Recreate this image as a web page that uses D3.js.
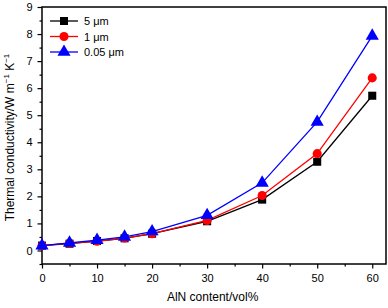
<!DOCTYPE html>
<html>
<head>
<meta charset="utf-8">
<script src="https://cdn.jsdelivr.net/npm/d3@7"></script>
<style>
body { margin: 0; background: #fff; }
svg { font-family: "Liberation Sans", Arial, sans-serif; }
</style>
</head>
<body>
<svg width="388" height="308"></svg>
<script>
// AlN content (vol%)
const content = [0, 5, 10, 15, 20, 30, 40, 50, 60];
// thermal conductivity per particle size
const s5 = [0.18, 0.25, 0.35, 0.45, 0.62, 1.08, 1.88, 3.28, 5.72];
const s1 = [0.18, 0.27, 0.34, 0.46, 0.62, 1.11, 2.03, 3.58, 6.38];
const s005 = [0.18, 0.28, 0.38, 0.50, 0.70, 1.30, 2.50, 4.75, 7.93];
const names = ["5 \u03bcm", "1 \u03bcm", "0.05 \u03bcm"];
const xTicks = [0, 10, 20, 30, 40, 50, 60];
const yTicks = [0, 1, 2, 3, 4, 5, 6, 7, 8, 9];

const series = [
    { name: names[0], vals: s5, color: "#000", shape: d3.symbolSquare },
    { name: names[1], vals: s1, color: "#ff0000", shape: d3.symbolCircle },
    { name: names[2], vals: s005, color: "#0000ff", shape: d3.symbolTriangle }
];

const svg = d3.select("svg"),
    margin = { top: 7, right: 2, bottom: 44, left: 42 },
    width = 388 - margin.left - margin.right,
    height = 308 - margin.top - margin.bottom,
    g = svg.append("g").attr("transform", `translate(${margin.left},${margin.top})`);

const x = d3.scaleLinear().domain([0, 62.5]).range([0, width]);
const y = d3.scaleLinear().domain([-0.5, 9]).range([height, 0]);

// minor ticks
g.append("g").attr("transform", `translate(0,${height})`)
    .call(d3.axisBottom(x).tickValues(d3.range(5, 61, 10)).tickSize(2.5).tickFormat(""))
    .call(a => a.select(".domain").remove());
g.append("g")
    .call(d3.axisLeft(y).tickValues(d3.range(-0.5, 9, 1)).tickSize(2.5).tickFormat(""))
    .call(a => a.select(".domain").remove());

// major axes
const xa = g.append("g").attr("transform", `translate(0,${height})`)
    .call(d3.axisBottom(x).tickValues(xTicks).tickSize(4.5).tickPadding(6));
const ya = g.append("g")
    .call(d3.axisLeft(y).tickValues(yTicks).tickSize(4.5).tickPadding(5));
[xa, ya].forEach(a => {
    a.selectAll("text").attr("font-size", 11).attr("fill", "#000").style("font-family", "Liberation Sans, Arial, sans-serif");
    a.select(".domain").remove();
});
g.selectAll(".tick line").attr("stroke", "#000").attr("stroke-width", 1.2);

// frame
g.append("rect").attr("width", width).attr("height", height)
    .attr("fill", "none").attr("stroke", "#000").attr("stroke-width", 1.5);

// lines and markers
const line = d3.line().x((d, i) => x(content[i])).y(d => y(d));
series.forEach(s => {
    g.append("path").datum(s.vals).attr("d", line)
        .attr("fill", "none").attr("stroke", s.color).attr("stroke-width", 1.3);
    g.selectAll(null).data(s.vals).enter().append("path")
        .attr("transform", (d, i) => `translate(${x(content[i])},${y(d)})`)
        .attr("d", d3.symbol().type(s.shape).size(s.shape === d3.symbolTriangle ? 75 : 65))
        .attr("fill", s.color);
});

// legend
const legend = g.append("g").attr("transform", "translate(8, 14)");
series.forEach((s, i) => {
    const row = legend.append("g").attr("transform", `translate(0, ${i * 15.5})`);
    row.append("line").attr("x1", 0).attr("x2", 28).attr("stroke", s.color).attr("stroke-width", 1.3);
    row.append("path").attr("transform", "translate(14,0)")
        .attr("d", d3.symbol().type(s.shape).size(s.shape === d3.symbolTriangle ? 75 : 65))
        .attr("fill", s.color);
    row.append("text").attr("x", 34).attr("y", 4).attr("font-size", 11).text(s.name);
});

// axis titles
svg.append("text").attr("x", margin.left + x(31)).attr("y", 301)
    .attr("text-anchor", "middle").attr("font-size", 12).text("AlN content/vol%");
svg.append("text").attr("transform", `translate(14, ${margin.top + height / 2 + 2}) rotate(-90)`)
    .attr("text-anchor", "middle").attr("font-size", 12)
    .html('Thermal conductivity/W m<tspan dy="-5" font-size="8">\u22121</tspan><tspan dy="5"> K</tspan><tspan dy="-5" font-size="8">\u22121</tspan>');
</script>
</body>
</html>
